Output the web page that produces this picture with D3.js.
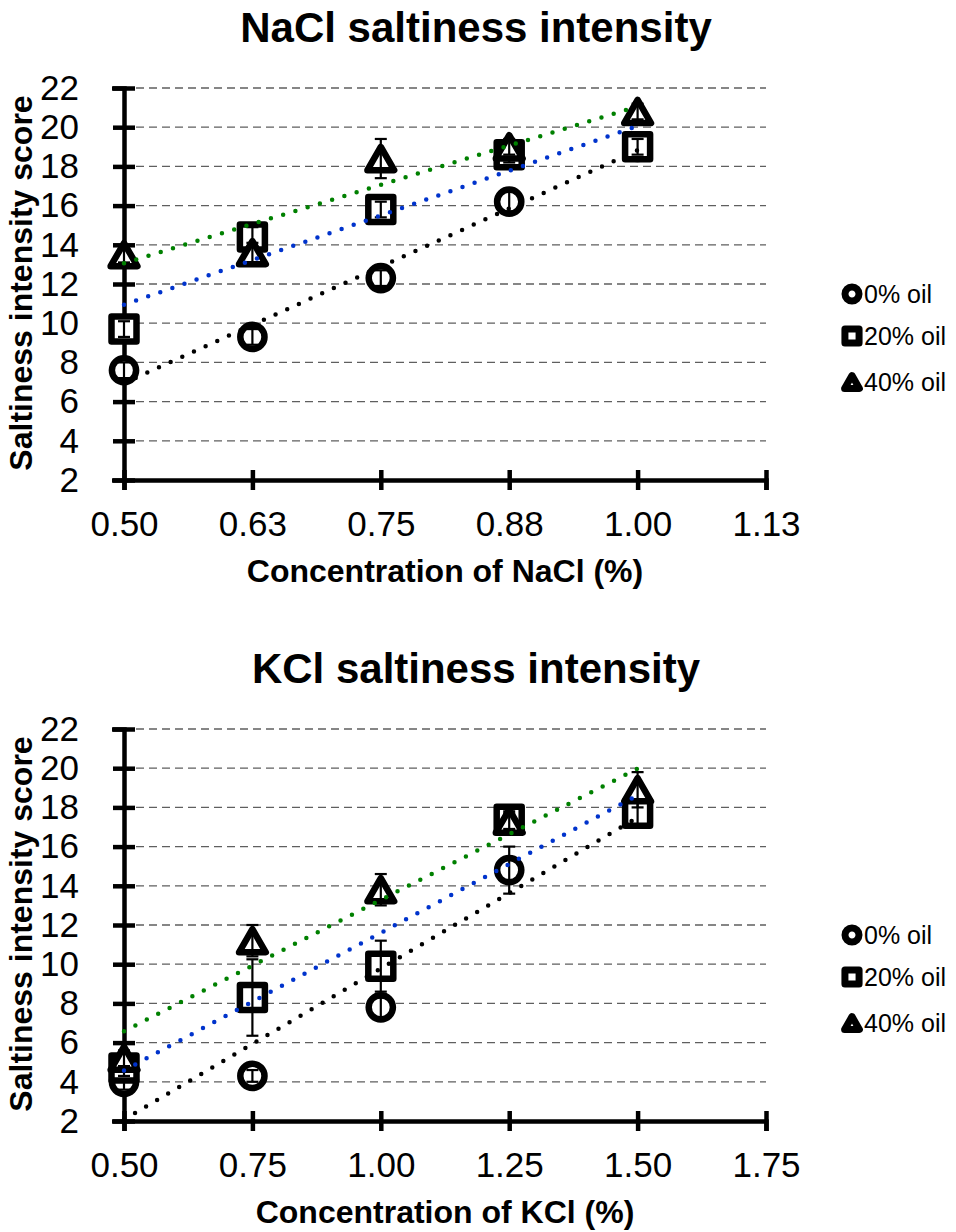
<!DOCTYPE html>
<html>
<head>
<meta charset="utf-8">
<script src="https://cdn.jsdelivr.net/npm/d3@7"></script>
<style>
  body { margin: 0; background: #fff; }
  svg { display: block; font-family: "Liberation Sans", Arial, sans-serif; }
</style>
</head>
<body>
<svg id="chart" width="956" height="1232"></svg>
<script>
// values
var seriesNames = ["0% oil", "20% oil", "40% oil"];
var seriesColors = ["#000000", "#0033cc", "#008000"];

var naclConc = [0.5, 0.625, 0.75, 0.875, 1.0];
var naclOil0 = [7.6, 9.3, 12.3, 16.2, 19.0];
var naclOil20 = [9.7, 14.4, 15.8, 18.6, 19.0];
var naclOil40 = [13.5, 13.6, 18.4, 19.0, 20.8];
var naclErr0 = [0.4, 0.4, 0.4, 0.5, 0.4];
var naclErr20 = [0.4, 0.5, 0.4, 0.4, 0.4];
var naclErr40 = [0.4, 0.5, 1.0, 0.4, 0.4];
var naclTicks = [0.5, 0.625, 0.75, 0.875, 1.0, 1.125];
var naclTickLabels = ["0.50", "0.63", "0.75", "0.88", "1.00", "1.13"];

var kclConc = [0.5, 0.75, 1.0, 1.25, 1.5];
var kclOil0 = [4.0, 4.3, 7.8, 14.8, 18.0];
var kclOil20 = [4.7, 8.3, 9.9, 17.4, 17.7];
var kclOil40 = [5.2, 11.2, 13.8, 17.3, 18.9];
var kclErr0 = [0.4, 0.3, 0.5, 1.2, 0.5];
var kclErr20 = [0.4, 1.95, 1.3, 0.4, 0.7];
var kclErr40 = [0.4, 0.8, 0.8, 0.4, 0.9];
var kclTicks = [0.5, 0.75, 1.0, 1.25, 1.5, 1.75];
var kclTickLabels = ["0.50", "0.75", "1.00", "1.25", "1.50", "1.75"];

var yTicks = [2, 4, 6, 8, 10, 12, 14, 16, 18, 20, 22];

var svg = d3.select("#chart");
var markerShapes = [d3.symbolCircle, d3.symbolSquare, d3.symbolTriangle];

// least squares line, same as the excel trendline
function fitLine(xs, ys){
  var mx = d3.mean(xs), my = d3.mean(ys);
  var num = d3.sum(xs, function(x, i){ return (x - mx) * (ys[i] - my); });
  var den = d3.sum(xs, function(x){ return (x - mx) * (x - mx); });
  var b = num / den;
  return function(x){ return my + b * (x - mx); };
}

// symbol area by series, big = plot marker, small = legend
var bigSizes = [460, 625, 310];
var smallSizes = [154, 200, 95];

function markerPath(i, big){
  var size = big ? bigSizes[i] : smallSizes[i];
  return d3.symbol().type(markerShapes[i]).size(size)();
}

// d3 triangles sit on their centroid, excel centres the box
function triShift(i, big){
  if (i != 2) return 0;
  var size = big ? bigSizes[i] : smallSizes[i];
  return Math.sqrt(size / (Math.sqrt(3) * 3)) / 2;
}

function drawChart(top, opt){
  var g = svg.append("g").attr("transform", "translate(0," + top + ")");
  var x = d3.scaleLinear().domain([opt.ticks[0], opt.ticks[opt.ticks.length - 1]]).range([124, 766]);
  var y = d3.scaleLinear().domain([2, 22]).range([480, 88]);

  g.append("text")
    .attr("x", 476).attr("y", 42)
    .attr("text-anchor", "middle")
    .style("font-size", "42px").style("font-weight", "bold")
    .text(opt.title);

  // gridlines
  g.append("g").selectAll("line")
    .data(yTicks.slice(1))
    .enter().append("line")
    .attr("x1", 136).attr("x2", 766)
    .attr("y1", function(d){ return y(d); })
    .attr("y2", function(d){ return y(d); })
    .style("stroke", "#5f5f5f")
    .style("stroke-width", 1.3)
    .style("stroke-dasharray", "8,5");

  var yAxis = g.append("g")
    .attr("transform", "translate(124,0)")
    .call(d3.axisLeft(y).tickValues(yTicks).tickSize(12).tickPadding(33));
  yAxis.select(".domain").style("stroke", "#000").style("stroke-width", 4.5);
  yAxis.selectAll(".tick line").attr("x1", 11).attr("x2", -11).style("stroke-width", 4.5);
  yAxis.selectAll(".tick text").style("font-size", "35px").style("font-family", "Liberation Sans, Arial, sans-serif");

  var xAxis = g.append("g")
    .attr("transform", "translate(0,480)")
    .call(d3.axisBottom(x).tickValues(opt.ticks)
      .tickFormat(function(d, i){ return opt.tickLabels[i]; })
      .tickSize(10).tickPadding(21));
  xAxis.select(".domain").style("stroke", "#000").style("stroke-width", 4.5);
  xAxis.selectAll(".tick line").attr("y1", -10).attr("y2", 10).style("stroke-width", 4.5);
  xAxis.selectAll(".tick text").style("font-size", "35px").style("font-family", "Liberation Sans, Arial, sans-serif");

  g.append("text")
    .attr("transform", "translate(32,283) rotate(-90)")
    .attr("text-anchor", "middle")
    .style("font-size", "32px").style("font-weight", "bold")
    .text("Saltiness intensity score");

  g.append("text")
    .attr("x", 445).attr("y", 582)
    .attr("text-anchor", "middle")
    .style("font-size", "32px").style("font-weight", "bold")
    .text(opt.xTitle);

  opt.series.forEach(function(vals, si){
    var pts = opt.conc.map(function(c, i){ return {x: c, y: vals[i], e: opt.errors[si][i]}; });
    var sg = g.append("g");

    sg.selectAll("path.marker")
      .data(pts)
      .enter().append("path")
      .attr("class", "marker")
      .attr("d", markerPath(si, true))
      .attr("transform", function(d){ return "translate(" + x(d.x) + "," + (y(d.y) + triShift(si, true)) + ")"; })
      .style("fill", "#fff")
      .style("stroke", "#000")
      .style("stroke-width", 6.5)
      .style("stroke-linejoin", "round");

    var eb = sg.selectAll("g.err").data(pts).enter().append("g").attr("class", "err");
    eb.append("line")
      .attr("x1", function(d){ return x(d.x); }).attr("x2", function(d){ return x(d.x); })
      .attr("y1", function(d){ return y(d.y - d.e); }).attr("y2", function(d){ return y(d.y + d.e); });
    eb.append("line")
      .attr("x1", function(d){ return x(d.x) - 6; }).attr("x2", function(d){ return x(d.x) + 6; })
      .attr("y1", function(d){ return y(d.y + d.e); }).attr("y2", function(d){ return y(d.y + d.e); });
    eb.append("line")
      .attr("x1", function(d){ return x(d.x) - 6; }).attr("x2", function(d){ return x(d.x) + 6; })
      .attr("y1", function(d){ return y(d.y - d.e); }).attr("y2", function(d){ return y(d.y - d.e); });
    eb.selectAll("line").style("stroke", "#000").style("stroke-width", 2.2);
  });

  // dotted trendlines on top of the markers
  opt.series.forEach(function(vals, si){
    var f = fitLine(opt.conc, vals);
    var x0 = opt.conc[0], x1 = opt.conc[opt.conc.length - 1];
    g.append("line")
      .attr("x1", x(x0)).attr("y1", y(f(x0)))
      .attr("x2", x(x1)).attr("y2", y(f(x1)))
      .style("stroke", seriesColors[si])
      .style("stroke-width", 4.5)
      .style("stroke-linecap", "round")
      .style("stroke-dasharray", "0,12.8");
  });

  // legend
  var leg = g.append("g").selectAll("g")
    .data(seriesNames)
    .enter().append("g")
    .attr("transform", function(d, i){ return "translate(852," + [294, 336, 382][i] + ")"; });
  leg.append("path")
    .attr("d", function(d, i){ return markerPath(i, false); })
    .attr("transform", function(d, i){ return "translate(0," + triShift(i, false) + ")"; })
    .style("fill", "#fff").style("stroke", "#000").style("stroke-width", 7)
    .style("stroke-linejoin", "round");
  leg.append("text")
    .attr("x", 12).attr("y", 9)
    .style("font-size", "25px")
    .text(function(d){ return d; });
}

drawChart(0, {
  title: "NaCl saltiness intensity",
  xTitle: "Concentration of NaCl (%)",
  conc: naclConc,
  series: [naclOil0, naclOil20, naclOil40],
  errors: [naclErr0, naclErr20, naclErr40],
  ticks: naclTicks,
  tickLabels: naclTickLabels
});

drawChart(641, {
  title: "KCl saltiness intensity",
  xTitle: "Concentration of KCl (%)",
  conc: kclConc,
  series: [kclOil0, kclOil20, kclOil40],
  errors: [kclErr0, kclErr20, kclErr40],
  ticks: kclTicks,
  tickLabels: kclTickLabels
});
</script>
</body>
</html>
